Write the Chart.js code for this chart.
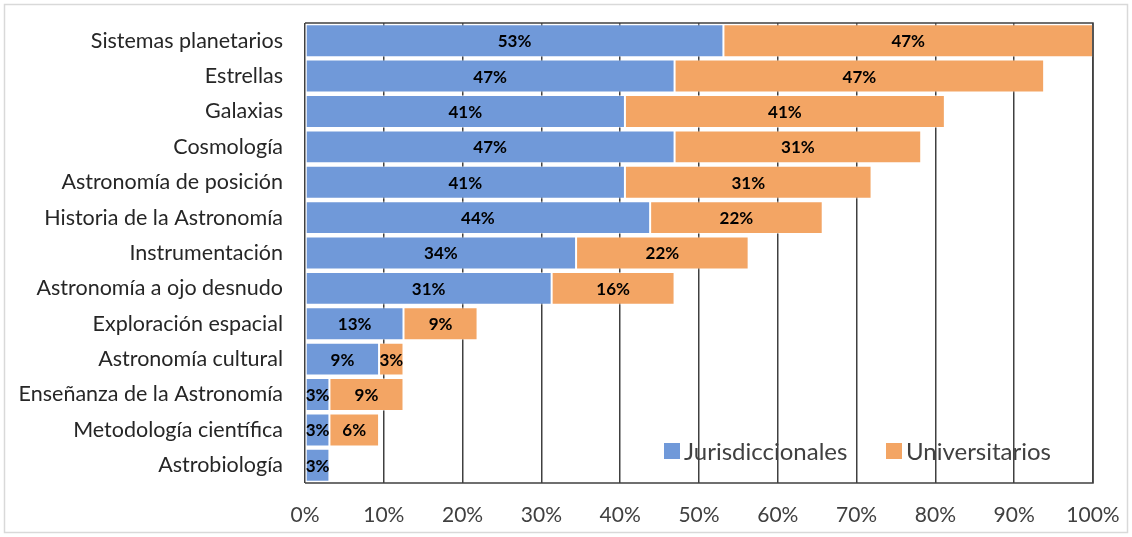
<!DOCTYPE html>
<html>
<head>
<meta charset="utf-8">
<script src="https://cdn.jsdelivr.net/npm/chart.js@4.4.1/dist/chart.umd.min.js"></script>
<style>
  html, body { margin: 0; padding: 0; background: #ffffff; }
  #wrap { width: 1132px; height: 537px; position: relative; }
</style>
</head>
<body>
<div id="wrap"><canvas id="c" width="1132" height="537"></canvas></div>
<script>
const categories = [
  "Sistemas planetarios", "Estrellas", "Galaxias", "Cosmología",
  "Astronomía de posición", "Historia de la Astronomía", "Instrumentación",
  "Astronomía a ojo desnudo", "Exploración espacial", "Astronomía cultural",
  "Enseñanza de la Astronomía", "Metodología científica", "Astrobiología"
];
const jurisdiccionales = [53.1, 46.9, 40.6, 46.9, 40.6, 43.8, 34.4, 31.3, 12.5, 9.4, 3.1, 3.1, 3.1];
const universitarios   = [46.9, 46.9, 40.6, 31.3, 31.3, 21.9, 21.9, 15.6, 9.4, 3.1, 9.4, 6.3, 0];
const seriesNames = ["Jurisdiccionales", "Universitarios"];
const xTicks = [0, 10, 20, 30, 40, 50, 60, 70, 80, 90, 100];

const BLUE = "#7099d9";
const ORANGE = "#f3a564";
const FONT = "Lato, 'Open Sans', sans-serif";

const frame = {
  id: "frame",
  beforeDraw(chart) {
    const ctx = chart.ctx;
    ctx.save();
    ctx.fillStyle = "#ffffff";
    ctx.fillRect(0, 0, chart.width, chart.height);
    ctx.strokeStyle = "#d9d9d9";
    ctx.lineWidth = 1.5;
    ctx.strokeRect(4.5, 4.5, chart.width - 9, chart.height - 9);
    ctx.restore();
  }
};

const plotBorder = {
  id: "plotBorder",
  afterDatasetsDraw(chart) {
    const a = chart.chartArea, ctx = chart.ctx;
    ctx.save();
    ctx.strokeStyle = "#404040";
    ctx.lineWidth = 1.5;
    ctx.beginPath();
    ctx.moveTo(a.left, a.top);
    ctx.lineTo(a.right, a.top);
    ctx.lineTo(a.right, a.bottom);
    ctx.lineTo(a.left, a.bottom);
    ctx.stroke();
    ctx.restore();
  }
};

const dataLabels = {
  id: "dataLabels",
  afterDatasetsDraw(chart) {
    const ctx = chart.ctx;
    ctx.save();
    ctx.font = "bold 17px " + FONT;
    ctx.fillStyle = "#000000";
    ctx.textAlign = "center";
    ctx.textBaseline = "middle";
    chart.data.datasets.forEach((ds, di) => {
      const meta = chart.getDatasetMeta(di);
      meta.data.forEach((el, i) => {
        const v = ds.data[i];
        if (!v) return;
        const cx = (el.x + el.base) / 2;
        ctx.fillText(Math.round(v) + "%", cx, el.y + 1);
      });
    });
    ctx.restore();
  }
};

const insideLegend = {
  id: "insideLegend",
  afterDraw(chart) {
    const ctx = chart.ctx;
    ctx.save();
    ctx.font = "24px " + FONT;
    ctx.textBaseline = "middle";
    ctx.textAlign = "left";
    const y = 451;
    const xs = [664, 886];
    chart.data.datasets.forEach((ds, i) => {
      const x = xs[i];
      ctx.fillStyle = ds.backgroundColor;
      ctx.fillRect(x, y - 8, 16, 16);
      ctx.fillStyle = "#404040";
      ctx.fillText(ds.label, x + 20, y + 1);
    });
    ctx.restore();
  }
};

function zeroPad(scale) {
  scale.paddingLeft = 0; scale.paddingRight = 0;
  scale.paddingTop = 0; scale.paddingBottom = 0;
}

new Chart(document.getElementById("c"), {
  type: "bar",
  data: {
    labels: categories,
    datasets: [
      { label: seriesNames[0], data: jurisdiccionales, backgroundColor: BLUE,
        borderColor: "rgba(255,255,255,0.45)", borderWidth: 1, borderSkipped: false },
      { label: seriesNames[1], data: universitarios, backgroundColor: ORANGE,
        borderColor: "rgba(255,255,255,0.45)", borderWidth: 1, borderSkipped: false }
    ]
  },
  options: {
    indexAxis: "y",
    responsive: false,
    animation: false,
    devicePixelRatio: 1,
    layout: { padding: { left: 0, right: 39, top: 23, bottom: 0 } },
    datasets: { bar: { barPercentage: 0.93, categoryPercentage: 1.0 } },
    plugins: {
      legend: { display: false },
      tooltip: { enabled: false }
    },
    scales: {
      x: {
        stacked: true,
        min: 0, max: 100,
        afterBuildTicks(scale) { scale.ticks = xTicks.map(v => ({ value: v })); },
        afterFit(scale) { scale.height = 54; zeroPad(scale); },
        grid: { color: "#404040", lineWidth: 1.5, drawTicks: false },
        border: { display: false },
        ticks: {
          padding: 20,
          color: "#404040",
          font: { family: FONT, size: 21 },
          callback: (v) => v + "%"
        }
      },
      y: {
        stacked: true,
        afterFit(scale) { scale.width = 305; zeroPad(scale); },
        grid: { display: false },
        border: { display: false },
        ticks: {
          padding: 14,
          color: "#262626",
          font: { family: FONT, size: 21.5 }
        }
      }
    }
  },
  plugins: [frame, plotBorder, dataLabels, insideLegend]
});
</script>
</body>
</html>
